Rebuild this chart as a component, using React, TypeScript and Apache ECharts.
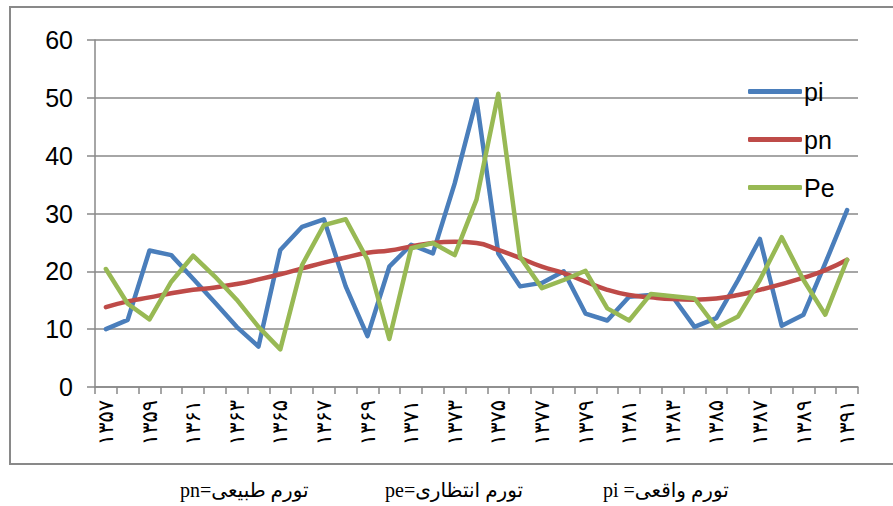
import React, { useEffect, useRef } from "react";
import * as echarts from "echarts";

const categories = [
  "۱۳۵۷", "۱۳۵۸", "۱۳۵۹", "۱۳۶۰", "۱۳۶۱", "۱۳۶۲", "۱۳۶۳", "۱۳۶۴", "۱۳۶۵", "۱۳۶۶",
  "۱۳۶۷", "۱۳۶۸", "۱۳۶۹", "۱۳۷۰", "۱۳۷۱", "۱۳۷۲", "۱۳۷۳", "۱۳۷۴", "۱۳۷۵", "۱۳۷۶",
  "۱۳۷۷", "۱۳۷۸", "۱۳۷۹", "۱۳۸۰", "۱۳۸۱", "۱۳۸۲", "۱۳۸۳", "۱۳۸۴", "۱۳۸۵", "۱۳۸۶",
  "۱۳۸۷", "۱۳۸۸", "۱۳۸۹", "۱۳۹۰", "۱۳۹۱",
];

const piValues = [
  10.0, 11.6, 23.6, 22.8, 18.7, 14.6, 10.4, 7.0, 23.7, 27.7,
  29.0, 17.4, 8.8, 20.8, 24.6, 23.1, 35.2, 49.7, 23.1, 17.4,
  18.0, 20.0, 12.7, 11.5, 15.6, 15.9, 15.6, 10.4, 11.9, 18.5,
  25.6, 10.6, 12.5, 21.4, 30.6,
];

const pnValues = [
  13.8, 14.8, 15.5, 16.2, 16.8, 17.2, 17.8, 18.6, 19.5, 20.5,
  21.5, 22.4, 23.2, 23.6, 24.3, 24.9, 25.1, 24.9, 23.7, 22.3,
  20.8, 19.7, 18.2, 16.8, 15.9, 15.5, 15.2, 15.1, 15.3, 15.9,
  16.8, 17.8, 18.9, 20.2, 22.0,
];

const peValues = [
  20.4, 14.4, 11.7, 18.2, 22.7, 19.1, 15.1, 10.4, 6.5, 21.1,
  28.0, 29.0, 22.0, 8.3, 24.0, 24.9, 22.8, 32.4, 50.7, 22.5,
  17.1, 18.5, 20.1, 13.6, 11.5, 16.1, 15.7, 15.3, 10.3, 12.2,
  18.5, 25.9, 18.5, 12.5, 22.0,
];

const yTicks = { min: 0, max: 60, interval: 10 };

const footnotes = ["pn=تورم طبیعی", "pe=تورم انتظاری", "pi =تورم واقعی"];

export default function App() {
  const ref = useRef<HTMLDivElement>(null);
  useEffect(() => {
    if (!ref.current) return;
    const chart = echarts.init(ref.current, undefined, { renderer: "svg" });
    const gray = "#898989";
    chart.setOption({
      animation: false,
      backgroundColor: "#ffffff",
      grid: { left: 95, right: 35, top: 40, bottom: 119, containLabel: false },
      legend: {
        orient: "vertical",
        left: 743,
        top: 74,
        itemWidth: 54,
        itemHeight: 5,
        itemGap: 23,
        icon: "roundRect",
        textStyle: { fontFamily: "Liberation Sans, Arial", fontSize: 25, color: "#000", padding: [0, 0, 0, -3] },
        data: ["pi", "pn", "Pe"],
      },
      xAxis: {
        type: "category",
        data: categories,
        boundaryGap: true,
        axisLine: { lineStyle: { color: gray, width: 1.5 } },
        axisTick: { show: true, interval: 0, length: 7, lineStyle: { color: gray, width: 1.5 } },
        axisLabel: {
          interval: 1,
          rotate: 90,
          margin: 13,
          fontFamily: "DejaVu Sans",
          fontSize: 21,
          color: "#000",
        },
      },
      yAxis: {
        type: "value",
        min: yTicks.min,
        max: yTicks.max,
        interval: yTicks.interval,
        axisLine: { show: true, lineStyle: { color: gray, width: 1.5 } },
        axisTick: { show: true, length: 8, lineStyle: { color: gray, width: 1.5 } },
        axisLabel: { margin: 22, fontFamily: "Liberation Sans, Arial", fontSize: 25, color: "#000" },
        splitLine: { lineStyle: { color: gray, width: 1.5 } },
      },
      series: [
        {
          name: "pi",
          type: "line",
          data: piValues,
          symbol: "none",
          itemStyle: { color: "#4A7EBB" },
          lineStyle: { color: "#4A7EBB", width: 4.5, cap: "round", join: "round" },
        },
        {
          name: "pn",
          type: "line",
          data: pnValues,
          smooth: true,
          symbol: "none",
          itemStyle: { color: "#BE4B48" },
          lineStyle: { color: "#BE4B48", width: 4.5, cap: "round", join: "round" },
        },
        {
          name: "Pe",
          type: "line",
          data: peValues,
          symbol: "none",
          itemStyle: { color: "#98B954" },
          lineStyle: { color: "#98B954", width: 4.5, cap: "round", join: "round" },
        },
      ],
      graphic: [
        {
          type: "rect",
          shape: { x: 10, y: 7, width: 900, height: 457 },
          style: { fill: "none", stroke: gray, lineWidth: 2 },
          silent: true,
          z: -1,
        },
        ...footnotes.map((t, i) => ({
          type: "text",
          x: [180, 385, 603][i],
          y: 490,
          style: {
            text: t,
            fontFamily: "Liberation Serif, DejaVu Sans",
            fontSize: 20,
            fill: "#000",
            verticalAlign: "middle",
          },
        })),
      ],
    });
    return () => chart.dispose();
  }, []);
  return (
    <div
      ref={ref}
      style={{ position: "absolute", left: 0, top: 0, width: 893, height: 506 }}
    />
  );
}
